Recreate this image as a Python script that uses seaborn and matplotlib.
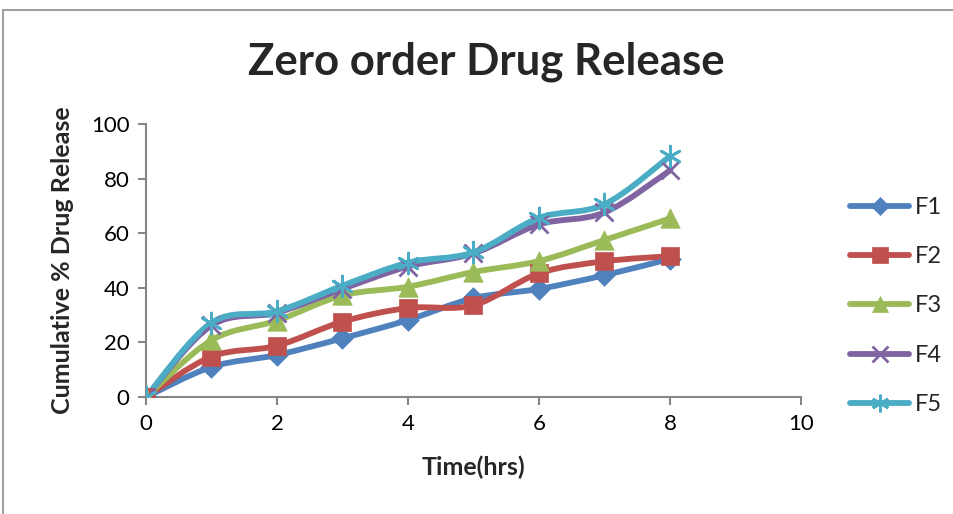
import numpy as np
import pandas as pd
import seaborn as sns
import matplotlib
matplotlib.use("Agg")
import matplotlib.pyplot as plt
from matplotlib.path import Path
from matplotlib.patches import PathPatch, Rectangle
from matplotlib.lines import Line2D

time_hrs = [0, 1, 2, 3, 4, 5, 6, 7, 8]
F1 = [0, 11.0, 15.4, 21.5, 28.2, 36.2, 39.6, 44.6, 50.6]
F2 = [0, 14.8, 18.8, 27.6, 32.6, 33.6, 45.3, 49.7, 51.6]
F3 = [0, 20.8, 28.0, 37.2, 40.4, 45.8, 49.8, 57.5, 65.4]
F4 = [0, 26.2, 30.9, 39.6, 47.8, 52.6, 63.2, 67.6, 83.0]
F5 = [0, 27.2, 31.4, 40.8, 49.2, 53.0, 65.6, 70.6, 88.2]
series_names = ["F1", "F2", "F3", "F4", "F5"]
colors = ["#4F81BD", "#C0504D", "#9BBB59", "#8064A2", "#4BACC6"]
markers = ["D", "s", "^", "x", (6, 2, 0)]
msizes = [11, 13, 14, 13, 15]

sns.set_theme(style="white")
plt.rcParams["font.family"] = ["Lato", "DejaVu Sans"]

df = pd.DataFrame({"Time": time_hrs, "F1": F1, "F2": F2, "F3": F3, "F4": F4, "F5": F5})
long = df.melt(id_vars="Time", var_name="Series", value_name="Release")

fig = plt.figure(figsize=(9.54, 5.14), dpi=100)
ax = fig.add_axes([146 / 954, 1 - 397 / 514, (801 - 146) / 954, (397 - 124) / 514])


def smooth_path(x, y):
    pts = np.column_stack([x, y]).astype(float)
    n = len(pts)
    verts = [pts[0]]
    codes = [Path.MOVETO]
    for i in range(n - 1):
        p0 = pts[i - 1] if i > 0 else pts[i]
        p1 = pts[i]
        p2 = pts[i + 1]
        p3 = pts[i + 2] if i + 2 < n else pts[i + 1]
        c1 = p1 + (p2 - p0) / 6.0
        c2 = p2 - (p3 - p1) / 6.0
        verts += [c1, c2, p2]
        codes += [Path.CURVE4] * 3
    return Path(verts, codes)


LW = 4.2
handles = []
for i, name in enumerate(series_names):
    sub = long[long["Series"] == name]
    patch = PathPatch(smooth_path(sub["Time"].values, sub["Release"].values),
                      facecolor="none", edgecolor=colors[i], lw=LW,
                      capstyle="round", joinstyle="round", zorder=2 + i * 0.1)
    ax.add_patch(patch)
    mk = markers[i]
    is_line_marker = mk in ("x",) or isinstance(mk, tuple)
    sns.scatterplot(data=sub, x="Time", y="Release", ax=ax, marker=mk,
                    s=msizes[i] ** 2, color=colors[i],
                    edgecolor=colors[i] if not is_line_marker else None,
                    linewidth=2.0 if is_line_marker else 0.5,
                    zorder=3 + i * 0.1, legend=False)
    handles.append(Line2D([0], [0], color=colors[i], lw=LW, marker=mk,
                          markersize=msizes[i] * 0.85, markeredgewidth=2.0 if is_line_marker else 0.5,
                          markerfacecolor=colors[i], markeredgecolor=colors[i],
                          solid_capstyle="round"))

ax.set_xlim(0, 10)
ax.set_ylim(0, 100)
ax.set_xticks([0, 2, 4, 6, 8, 10])
ax.set_yticks([0, 20, 40, 60, 80, 100])
for side in ["top", "right"]:
    ax.spines[side].set_visible(False)
for side in ["left", "bottom"]:
    ax.spines[side].set_color("#868686")
    ax.spines[side].set_linewidth(1.5)
ax.tick_params(axis="both", which="major", direction="out", length=6, width=1.5,
               color="#868686", labelsize=16, labelcolor="black", pad=6)
ax.tick_params(axis="x", bottom=True)
ax.tick_params(axis="y", left=True)
ax.grid(False)
ax.set_facecolor("white")

ax.set_xlabel("Time(hrs)", fontsize=18, fontweight="bold", labelpad=16)
ax.set_ylabel("Cumulative % Drug Release", fontsize=18, fontweight="bold", labelpad=12)

fig.text(486 / 954, 1 - 62 / 514, "Zero order Drug Release", ha="center", va="center",
         fontsize=31.5, fontweight="bold")

leg = fig.legend(handles, series_names, loc="center left",
                 bbox_to_anchor=(850 / 954, 1 - 306 / 514), frameon=False,
                 fontsize=17, handlelength=2.5, labelspacing=1.2, handletextpad=0.25,
                 borderpad=0, borderaxespad=0)

fig.patches.append(Rectangle((3 / 954, -0.5), 2.0, 0.5 + (1 - 10 / 514),
                             transform=fig.transFigure, fill=False,
                             edgecolor="#8c8c8c", lw=1.2))

fig.savefig("out.png", dpi=100)
